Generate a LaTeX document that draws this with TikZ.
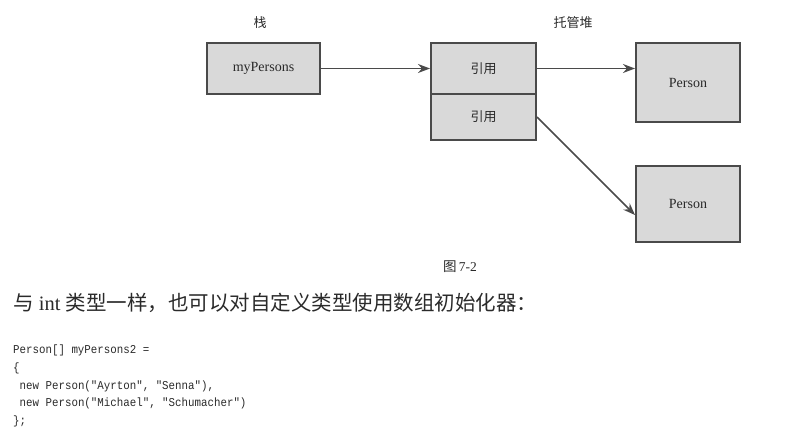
\documentclass[tikz,border=0pt]{standalone}
\usepackage{fontspec}
\setmainfont{Liberation Serif}
\setmonofont{Liberation Mono}
\newfontfamily\codefont[FakeStretch=0.9]{Liberation Mono}
\newfontfamily\cjk{Noto Sans CJK SC}
\usetikzlibrary{arrows.meta}
\definecolor{boxfill}{HTML}{D9D9D9}
\definecolor{boxline}{HTML}{4A4A4A}
\definecolor{txt}{HTML}{2A2A2A}
\tikzset{
  cell/.style={draw=boxline, line width=2pt, fill=boxfill, inner sep=0pt,
    text=txt, font=\fontsize{14}{16}\selectfont},
  link/.style={draw=boxline, line width=1.5pt, -{Stealth[length=12pt,width=9pt]}},
  lbl/.style={text=txt, inner sep=0pt, font=\fontsize{13}{15}\selectfont\cjk},
  codeline/.style={anchor=base west, inner sep=0pt, text=txt, font=\fontsize{12}{14}\selectfont\codefont}
}
\begin{document}
\begin{tikzpicture}[x=1pt,y=-1pt]
\useasboundingbox (0,0) rectangle (806,444);
\node[cell, minimum width=113pt, minimum height=51pt] (mp) at (263.5,68.5) {myPersons};
\node[cell, minimum width=105pt, minimum height=51pt] (r1) at (483.5,68.5) {\cjk\fontsize{13}{15}\selectfont 引用};
\node[cell, minimum width=105pt, minimum height=46pt] (r2) at (483.5,117) {\cjk\fontsize{13}{15}\selectfont 引用};
\node[cell, minimum width=104pt, minimum height=79pt] (p1) at (688,82.5) {Person};
\node[cell, minimum width=104pt, minimum height=76pt] (p2) at (688,204) {Person};
\node[lbl, anchor=base] (stack) at (260,28) {栈};
\node[lbl, anchor=base] (heap) at (573,28) {托管堆};
\draw[link] (mp.east) -- (r1.west);
\draw[link] (r1.east) -- (r1.east -| p1.west);
\draw[link] (r2.east) -- ([yshift=-11pt]p2.west);
\node[anchor=base, inner sep=0pt, text=txt, font=\fontsize{13.5}{15}\selectfont] (cap) at (460,271) {{\cjk 图}\,7-2};
\node[anchor=base west, inner sep=0pt, text=txt, font=\fontsize{20.5}{23}\selectfont] (para) at (13,310)
  {{\cjk 与} int {\cjk 类型一样，也可以对自定义类型使用数组初始化器：}};
\node[codeline] (c1) at (13,353) {Person[] myPersons2 =};
\node[codeline] (c2) at (13,371) {\{};
\node[codeline] (c3) at (13,389) {\ new Person("Ayrton", "Senna"),};
\node[codeline] (c4) at (13,406.5) {\ new Person("Michael", "Schumacher")};
\node[codeline] (c5) at (13,424) {\};};
\end{tikzpicture}
\end{document}
